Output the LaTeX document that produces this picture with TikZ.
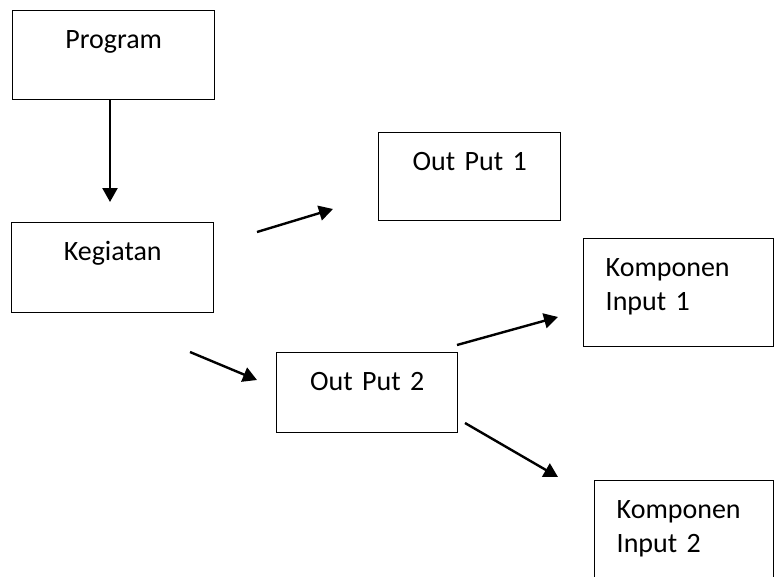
\documentclass[tikz,border=0pt]{standalone}
\usepackage{fontspec}
\setmainfont{Carlito}
\usetikzlibrary{arrows.meta}

\begin{document}
\begin{tikzpicture}[x=1pt,y=-1pt,
	box/.style={draw,line width=1.4pt,anchor=north west,inner xsep=0pt,inner ysep=0pt,
		text width=#1,align=center,text height=38pt,font=\fontsize{28}{34}\selectfont},
	kbox/.style={box=#1,align=left,inner xsep=22pt},
	arr/.style={line width=2.4pt,-{Triangle[length=14pt,width=15pt]}}]
	\useasboundingbox (0,0) rectangle (774,576);
	
	%BOXES
	\node[box=202pt,text depth=51pt] (prog) at (12,10) {Program};
	\node[box=202pt,text depth=52pt] (keg) at (11,222) {Kegiatan};
	\node[box=182pt,text depth=50pt] (out1) at (378,132) {Out Put 1};
	\node[box=181pt,text depth=42pt] (out2) at (276,352) {Out Put 2};
	\node[kbox=146pt,text depth=70pt] (komp1) at (583,238) {Komponen\\Input 1};
	\node[kbox=135pt,text depth=82pt] (komp2) at (594,480) {Komponen\\Input 2};
	
	%ARROW ENDS
	\coordinate (progend) at (110,202);
	\coordinate (keg1s) at (257,232);
	\coordinate (keg1e) at (333,209);
	\coordinate (keg2s) at (190,352);
	\coordinate (keg2e) at (257,380);
	\coordinate (out2as) at (457,345);
	\coordinate (out2ae) at (558,317);
	\coordinate (out2bs) at (465,423);
	\coordinate (out2be) at (558,477);
	
	%ARROWS
	\draw[arr] (prog.south -| progend) -- (progend);
	\draw[arr] (keg1s) -- (keg1e);
	\draw[arr] (keg2s) -- (keg2e);
	\draw[arr] (out2as) -- (out2ae);
	\draw[arr] (out2bs) -- (out2be);
\end{tikzpicture}
\end{document}
